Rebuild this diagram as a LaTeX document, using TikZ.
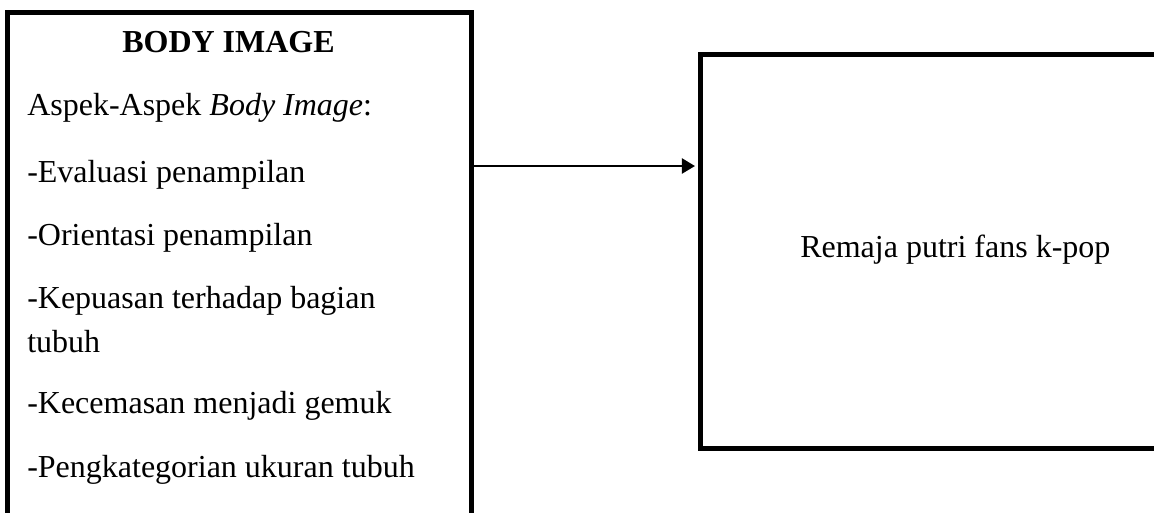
\documentclass[tikz,border=0pt]{standalone}
\usepackage{fontspec}
\setmainfont{Liberation Serif}
\usetikzlibrary{arrows.meta}
\begin{document}
\begin{tikzpicture}[x=0.75pt,y=-0.75pt,
  frame/.style={draw, rectangle, line width=3.75pt, inner sep=0pt},
  txt/.style={anchor=base west, inner sep=0pt, font=\fontsize{24pt}{28pt}\selectfont},
  ttl/.style={anchor=base, inner sep=0pt, font=\fontsize{24pt}{28pt}\selectfont\bfseries},
  link/.style={line width=1.6pt, -{Triangle[length=9.75pt,width=11.25pt]}}]
\fill[white] (0,0) rectangle (1154,512);
\useasboundingbox (0,0) rectangle (1154,512);
\clip (0,0) rectangle (1154,512);
% boxes (left box open at bottom, right box open at right: they run past the edge)
\node[frame, minimum width=348pt, minimum height=388pt] (bodybox) at (239.5,271.25) {};
\node[frame, minimum width=345pt, minimum height=295.5pt] (remaja) at (930,251.5) {};
% texts
\node[ttl] (t0) at (228.5,52) {BODY IMAGE};
\node[txt] (t1) at (27,115) {Aspek-Aspek \textit{Body Image}:};
\node[txt] (t2) at (27,182) {-Evaluasi penampilan};
\node[txt] (t3) at (27,245) {-Orientasi penampilan};
\node[txt] (t4) at (27,308) {-Kepuasan terhadap bagian};
\node[txt] (t5) at (27,352) {tubuh};
\node[txt] (t6) at (27,413) {-Kecemasan menjadi gemuk};
\node[txt] (t7) at (27,477) {-Pengkategorian ukuran tubuh};
\node[txt] (r1) at (800,257) {Remaja putri fans k-pop};
% connector
\coordinate (ay) at (0,166);
\draw[link, shorten >=1.9pt] (bodybox.east |- ay) -- (remaja.west |- ay);
\end{tikzpicture}
\end{document}
